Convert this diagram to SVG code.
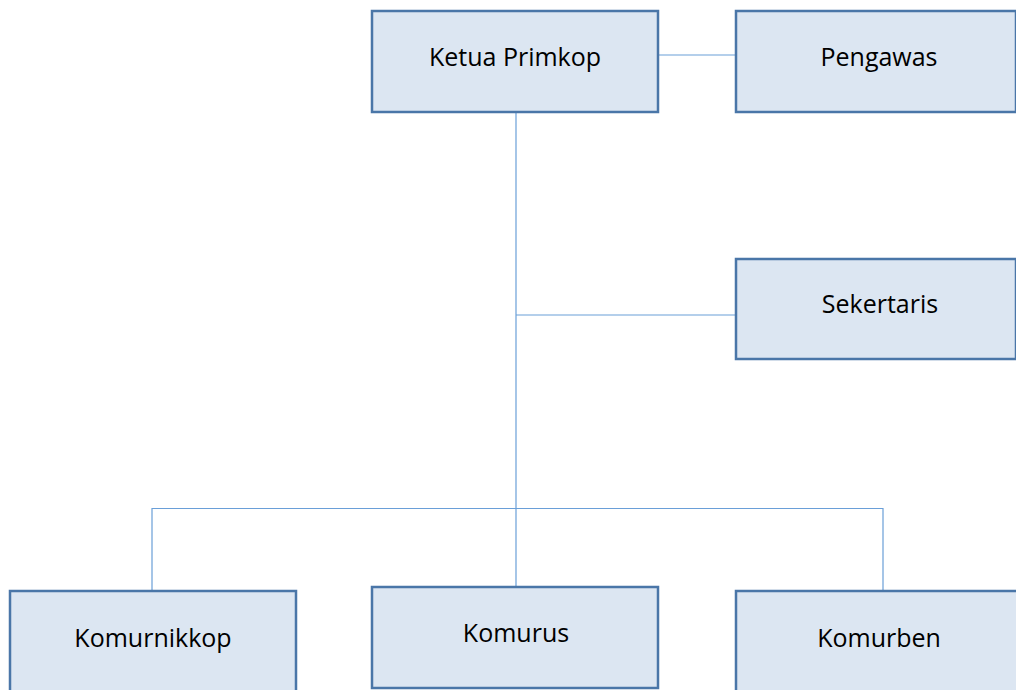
<svg xmlns="http://www.w3.org/2000/svg" width="1016" height="690" viewBox="0 0 1016 690">
<style>
.box{fill:#dce6f2;stroke:#4a76a8;stroke-width:2.5}
.lbl{font-family:"Open Sans","Liberation Sans",sans-serif;font-size:25px;fill:#000;text-anchor:middle}
.con{stroke:#6a9fd8;stroke-width:1.2;fill:none}
</style>
<rect width="1016" height="690" fill="#fff"/>
<g id="connectors">
<line class="con" x1="658" y1="55" x2="736" y2="55"/>
<line class="con" x1="516" y1="112" x2="516" y2="587"/>
<line class="con" x1="516" y1="315" x2="736" y2="315"/>
<polyline class="con" points="152,591 152,508.5 883,508.5 883,591"/>
</g>
<g id="ketua"><rect class="box" x="372" y="11" width="286" height="101"/><text class="lbl" x="515" y="66">Ketua Primkop</text></g>
<g id="pengawas"><rect class="box" x="736" y="11" width="280" height="101"/><text class="lbl" x="879" y="66">Pengawas</text></g>
<g id="sekertaris"><rect class="box" x="736" y="259" width="280" height="100"/><text class="lbl" x="880" y="313">Sekertaris</text></g>
<g id="komurnikkop"><rect class="box" x="10" y="591" width="286" height="102"/><text class="lbl" x="153" y="647">Komurnikkop</text></g>
<g id="komurus"><rect class="box" x="372" y="587" width="286" height="101"/><text class="lbl" x="516" y="642">Komurus</text></g>
<g id="komurben"><rect class="box" x="736" y="591" width="282" height="102"/><text class="lbl" x="879" y="647">Komurben</text></g>
</svg>
